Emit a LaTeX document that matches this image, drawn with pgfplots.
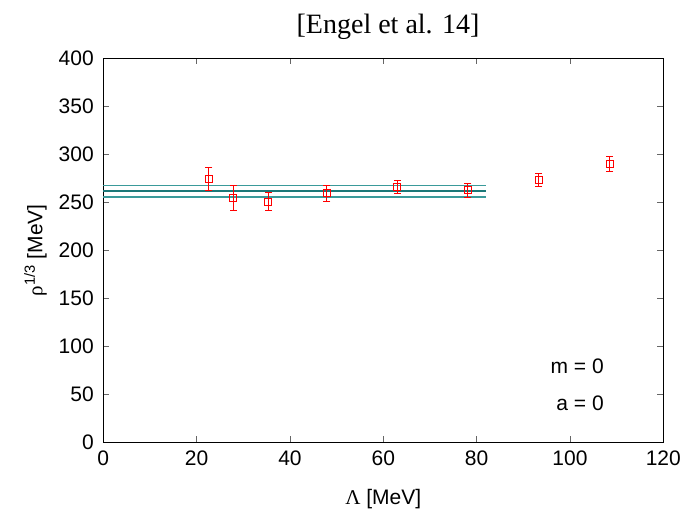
\documentclass[border=0pt]{standalone}
\usepackage{pgfplots}
\pgfplotsset{compat=1.18}
\usepackage{fontspec}
\setmainfont{Liberation Sans}
\newfontfamily\serif{Liberation Serif}
\definecolor{bandout}{HTML}{3A9A9A}
\definecolor{bandin}{HTML}{1C7878}
\begin{document}
\begin{tikzpicture}[x=1pt,y=1pt]
\path[use as bounding box] (0,0) rectangle (698,511);
\node[font=\serif\fontsize{28}{32}\selectfont, anchor=base] at (388,477) {[Engel et al. 14]};
\begin{axis}[
  at={(103.3pt,68.7pt)}, anchor=south west,
  scale only axis, width=560pt, height=384pt,
  xmin=0, xmax=120, ymin=0, ymax=400,
  xtick={0,20,...,120}, ytick={0,50,...,400},
  tick align=inside, major tick length=6pt,
  tick style={line width=0.6pt, black!60},
  axis line style={line width=1pt},
  ticklabel style={font=\fontsize{21}{24}\selectfont},
  xticklabel style={yshift=-5pt},
  yticklabel style={xshift=-6pt},
  /pgf/number format/assume math mode=true,
  xlabel={{\serif Λ} [MeV]}, ylabel={{\serif ρ}\textsuperscript{1/3} [MeV]},
  label style={font=\fontsize{21}{24}\selectfont},
  xlabel style={at={(axis description cs:0.5,-0.148)}, anchor=center},
  ylabel style={at={(axis description cs:-0.121,0.5)}, anchor=center},
  clip=false,
  unbounded coords=jump,
]
\addplot[bandout, line width=1.8pt] coordinates {(0,267.4) (82,267.4)};
\addplot[bandout, line width=1.8pt] coordinates {(0,255.6) (82,255.6)};
\addplot[bandin, line width=2pt] coordinates {(0,261.5) (82,261.5)};
% error bars (value -+ error), caps drawn as marks
\addplot[red, line width=1pt, mark=-, mark size=3.5pt, mark options={red, line width=1pt}]
  coordinates {
  (22.6,262.8) (22.6,286.4) (nan,nan)
  (27.8,241.3) (27.8,267.3) (nan,nan)
  (35.3,241.0) (35.3,260.6) (nan,nan)
  (47.9,251.3) (47.9,267.3) (nan,nan)
  (63.0,259.0) (63.0,272.2) (nan,nan)
  (78.1,254.8) (78.1,269.8) (nan,nan)
  (93.3,266.0) (93.3,280.2) (nan,nan)
  (108.5,282.3) (108.5,297.5)
  };
\addplot[red, only marks, mark=square, mark size=3.5pt, mark options={line width=1pt, red}]
  coordinates {
  (22.6,274.6) (27.8,254.3) (35.3,250.8) (47.9,259.3)
  (63.0,265.6) (78.1,262.3) (93.3,273.1) (108.5,289.9)
  };
\node[anchor=east, font=\fontsize{21}{24}\selectfont] at (axis cs:108,79) {m = 0};
\node[anchor=east, font=\fontsize{21}{24}\selectfont] at (axis cs:108,40.6) {a = 0};
\end{axis}
\end{tikzpicture}
\end{document}
